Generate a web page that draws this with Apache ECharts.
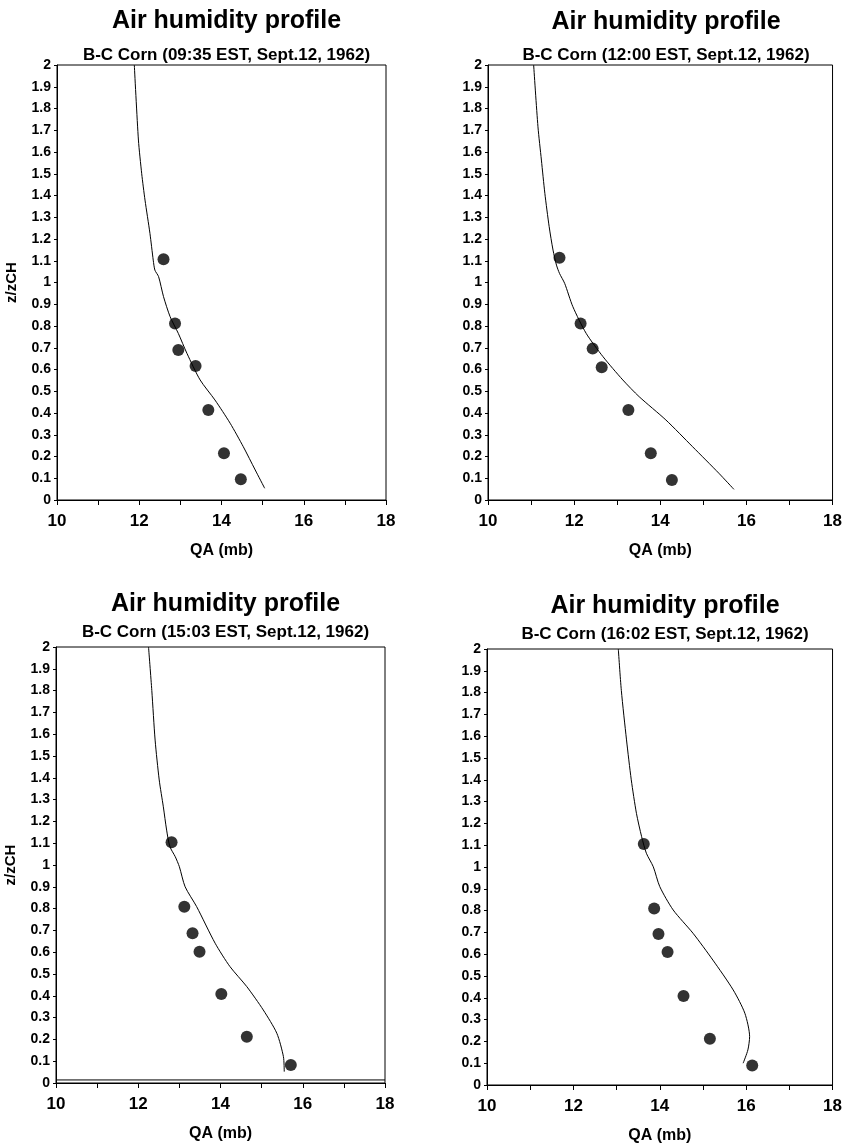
<!DOCTYPE html>
<html>
<head>
<meta charset="utf-8">
<script src="https://cdn.jsdelivr.net/npm/echarts@6/dist/echarts.min.js"></script>
<style>
  html, body { margin: 0; padding: 0; background: #fff; }
  #chart { width: 845px; height: 1147px; }
</style>
</head>
<body>
<div id="chart"></div>
<script>
// panel times (subtitles)
const times = ['09:35', '12:00', '15:03', '16:02']

// observed points [QA (mb), z/zCH]
const obs0935 = [[12.59, 1.107], [12.87, 0.812], [12.95, 0.69], [13.37, 0.616], [13.68, 0.414], [14.06, 0.215], [14.47, 0.095]]
const obs1200 = [[11.66, 1.114], [12.15, 0.812], [12.43, 0.696], [12.64, 0.61], [13.26, 0.414], [13.78, 0.215], [14.27, 0.092]]
const obs1503 = [[12.81, 1.104], [13.12, 0.809], [13.32, 0.687], [13.49, 0.602], [14.02, 0.408], [14.64, 0.212], [15.71, 0.083]]
const obs1602 = [[13.63, 1.105], [13.87, 0.81], [13.97, 0.693], [14.18, 0.61], [14.55, 0.408], [15.16, 0.212], [16.14, 0.089]]

// modelled profiles [QA (mb), z/zCH]
const model0935 = [[11.88, 2.0], [11.98, 1.655], [12.06, 1.5], [12.14, 1.379], [12.26, 1.226], [12.34, 1.103], [12.38, 1.057],
  [12.47, 1.027], [12.59, 0.935], [12.75, 0.843], [12.95, 0.766], [13.16, 0.674], [13.48, 0.552], [13.84, 0.46],
  [14.21, 0.353], [14.53, 0.245], [14.82, 0.138], [15.05, 0.054]]
const model1200 = [[11.06, 2.0], [11.16, 1.716], [11.24, 1.563], [11.32, 1.41], [11.42, 1.257], [11.51, 1.149], [11.59, 1.08],
  [11.66, 1.042], [11.78, 0.996], [11.97, 0.889], [12.28, 0.766], [12.67, 0.659], [13.13, 0.552], [13.51, 0.475],
  [14.13, 0.368], [14.75, 0.245], [15.36, 0.123], [15.71, 0.049]]
const model1503 = [[12.25, 2.0], [12.33, 1.8], [12.41, 1.573], [12.51, 1.39], [12.61, 1.267], [12.69, 1.16], [12.77, 1.084],
  [12.9, 1.038], [13.0, 0.992], [13.14, 0.9], [13.42, 0.809], [13.87, 0.641], [14.23, 0.534], [14.64, 0.442],
  [15.04, 0.335], [15.37, 0.228], [15.53, 0.121], [15.55, 0.052]]
const model1602 = [[13.04, 2.0], [13.11, 1.81], [13.23, 1.583], [13.34, 1.4], [13.46, 1.246], [13.58, 1.139], [13.69, 1.063],
  [13.85, 1.001], [14.0, 0.91], [14.31, 0.803], [14.77, 0.696], [15.23, 0.573], [15.7, 0.436], [15.97, 0.329],
  [16.08, 0.222], [16.04, 0.161], [15.93, 0.1]]

// stray horizontal line near the ground in the 15:03 panel
const groundLine1503 = [[10, 0.014], [18, 0.014]]

const observed = [obs0935, obs1200, obs1503, obs1602]
const modelled = [model0935, model1200, model1503, model1602]

const font = 'Liberation Sans, Arial, sans-serif'

// panel placement: left, top, width, height
const grids = [
  { left: 57, top: 65, width: 329, height: 435 },
  { left: 488, top: 65, width: 346, height: 435 },
  { left: 56, top: 647, width: 329, height: 436 },
  { left: 487, top: 649, width: 346, height: 436 }
]
const titleTops = [[4, 42], [5, 42], [587, 619], [589, 621]]

const chart = echarts.init(document.getElementById('chart'))

const title = []
grids.forEach((g, i) => {
  const cx = g.left + g.width / 2
  title.push({
    text: 'Air humidity profile',
    left: cx, top: titleTops[i][0], textAlign: 'center',
    textStyle: { fontFamily: font, fontSize: 25, fontWeight: 'bold', color: '#000' }
  })
  title.push({
    text: 'B-C Corn (' + times[i] + ' EST, Sept.12, 1962)',
    left: cx, top: titleTops[i][1], textAlign: 'center',
    textStyle: { fontFamily: font, fontSize: 17, fontWeight: 'bold', color: '#000' }
  })
})

const xAxis = grids.map((g, i) => ({
  type: 'value', gridIndex: i, min: 10, max: 18, interval: 1,
  name: 'QA (mb)', nameLocation: 'middle', nameGap: 43,
  nameTextStyle: { fontFamily: font, fontSize: 16, fontWeight: 'bold', color: '#000' },
  axisLine: { lineStyle: { color: '#000', width: 1 } },
  axisTick: { show: true, inside: false, length: 5, lineStyle: { color: '#000' } },
  axisLabel: {
    fontFamily: font, fontSize: 17, fontWeight: 'bold', color: '#000', margin: 13,
    formatter: v => (v % 2 === 0 ? String(v) : '')
  },
  splitLine: { show: false }
}))

const yAxis = grids.map((g, i) => ({
  type: 'value', gridIndex: i, min: 0, max: 2, interval: 0.1,
  name: i % 2 === 0 ? 'z/zCH' : '', nameLocation: 'middle', nameGap: 38, nameRotate: 90,
  nameTextStyle: { fontFamily: font, fontSize: 15, fontWeight: 'bold', color: '#000' },
  axisLine: { show: true, lineStyle: { color: '#000', width: 1 } },
  axisTick: { show: true, inside: false, length: 3, lineStyle: { color: '#000' } },
  axisLabel: {
    fontFamily: font, fontSize: 14, fontWeight: 'bold', color: '#000', margin: 6,
    formatter: v => String(+v.toFixed(1))
  },
  splitLine: { show: false }
}))

const series = []
grids.forEach((g, i) => {
  series.push({
    type: 'line', xAxisIndex: i, yAxisIndex: i, data: modelled[i],
    showSymbol: false, smooth: 0.25, silent: true,
    lineStyle: { color: '#000', width: 1 }
  })
  series.push({
    type: 'scatter', xAxisIndex: i, yAxisIndex: i, data: observed[i],
    symbol: 'circle', symbolSize: 12, itemStyle: { color: '#000' }
  })
})
series.push({
  type: 'line', xAxisIndex: 2, yAxisIndex: 2, data: groundLine1503,
  showSymbol: false, silent: true, lineStyle: { color: '#000', width: 1 }
})

chart.setOption({
  backgroundColor: '#fff',
  animation: false,
  title,
  grid: grids.map(g => ({ ...g, show: true, borderColor: '#000', borderWidth: 1, backgroundColor: 'transparent' })),
  xAxis,
  yAxis,
  series
})
</script>
</body>
</html>
